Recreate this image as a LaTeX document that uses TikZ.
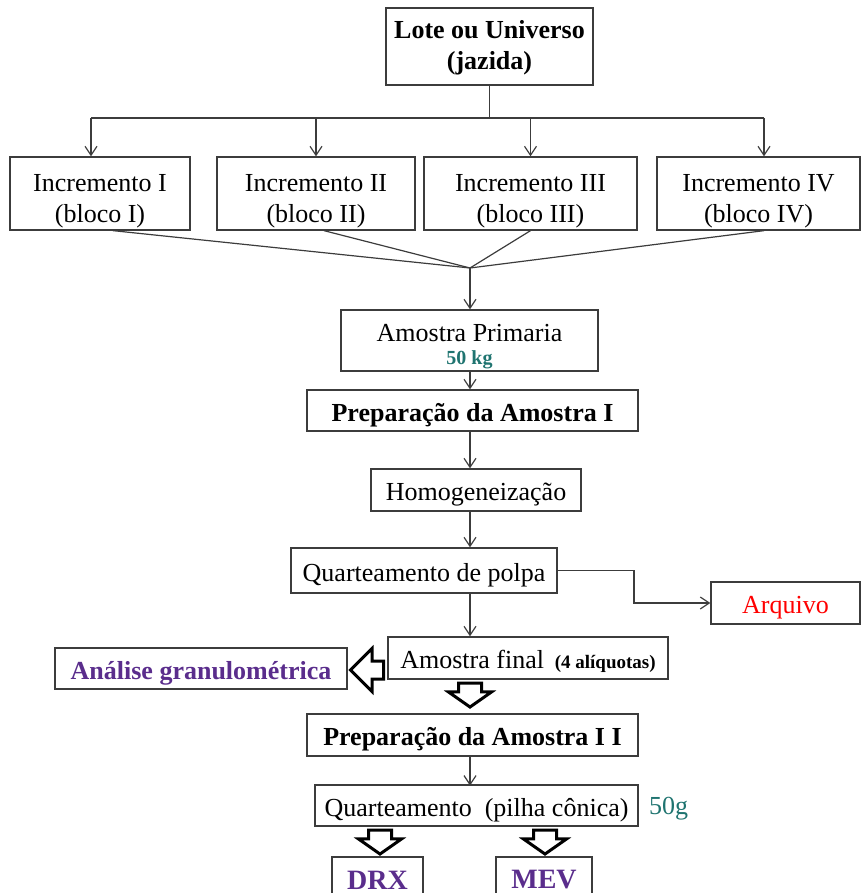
\documentclass[tikz,border=0pt]{standalone}
\usepackage{fontspec}
\setmainfont{Liberation Serif}
\usetikzlibrary{shapes,arrows,arrows.meta,positioning,calc}
\definecolor{analisecor}{HTML}{5A2D8C}
\definecolor{pesocor}{HTML}{1F7470}
\definecolor{linhacor}{HTML}{3C3C3C}

\tikzset{
  caixa/.style={draw=linhacor, line width=.65pt, align=center, inner sep=0pt,
    font=\fontsize{13}{15.5}\selectfont},
  linha/.style={text height=10.5pt, text depth=0pt},
  duas/.style={text height=29pt, text depth=0pt},
  negrito/.style={font=\bfseries\fontsize{13}{15.5}\selectfont},
  seta/.style={-{Straight Barb[length=4.5pt,width=6pt]}, draw=linhacor, line width=.6pt},
  bloco/.style={single arrow, draw=black, fill=white, line width=1.5pt, inner xsep=5pt, inner ysep=.5pt,
    single arrow head extend=5pt, single arrow tip angle=110, minimum height=12pt, minimum width=12pt,
    shape border rotate=270},
}

\begin{document}
\begin{tikzpicture}[x=.5pt,y=-.5pt]
    \clip (0,0) rectangle (861,893);

    % lote e incrementos
    \node[caixa,negrito,text height=23.2pt,text depth=0pt,minimum width=103.5pt,minimum height=38.5pt] (lote) at (489.5,46.5) {Lote ou Universo\\(jazida)};
    \node[caixa,duas,minimum width=90pt,minimum height=36.5pt] (inc1) at (100,193.5) {Incremento I\\(bloco I)};
    \node[caixa,duas,minimum width=99pt,minimum height=36.5pt] (inc2) at (316,193.5) {Incremento II\\(bloco II)};
    \node[caixa,duas,minimum width=106.5pt,minimum height=36.5pt] (inc3) at (530.5,193.5) {Incremento III\\(bloco III)};
    \node[caixa,duas,minimum width=101.5pt,minimum height=36.5pt] (inc4) at (758.5,193.5) {Incremento IV\\(bloco IV)};

    \coordinate (ramo) at (489.5,118);
    \coordinate (junta) at (470,268);
    \draw[linhacor,line width=.6pt] (lote.south) -- (ramo);
    \draw[linhacor,line width=.6pt] ([xshift=-4.5pt]inc1.north |- ramo) -- ([xshift=2.75pt]inc4.north |- ramo);
    \draw[seta] ([xshift=-4.5pt]inc1.north |- ramo) -- ([xshift=-4.5pt]inc1.north);
    \draw[seta] (inc2.north |- ramo) -- (inc2.north);
    \draw[seta] (inc3.north |- ramo) -- (inc3.north);
    \draw[seta] ([xshift=2.75pt]inc4.north |- ramo) -- ([xshift=2.75pt]inc4.north);
    \draw[linhacor,line width=.6pt] ([xshift=6.5pt]inc1.south) -- (junta);
    \draw[linhacor,line width=.6pt] ([xshift=4pt]inc2.south) -- (junta);
    \draw[linhacor,line width=.6pt] (inc3.south) -- (junta);
    \draw[linhacor,line width=.6pt] ([xshift=2.75pt]inc4.south) -- (junta);

    % amostra primaria
    \node[caixa,text height=23.5pt,text depth=0pt,minimum width=128.5pt,minimum height=30.5pt] (prim) at (469.5,340.5) {Amostra Primaria\\[-4pt]{\bfseries\fontsize{10}{12}\selectfont\color{pesocor}50 kg}};
    \draw[seta] (junta) -- (prim.north -| junta);

    \node[caixa,negrito,linha,minimum width=165.5pt,minimum height=20.5pt] (prep1) at (472.5,410.5) {Preparação da Amostra I};
    \draw[seta] (prim.south -| junta) -- (prep1.north -| junta);

    \node[caixa,linha,minimum width=105pt,minimum height=21pt] (homog) at (476,490) {Homogeneização};
    \draw[seta] (prep1.south -| junta) -- (homog.north -| junta);

    \node[caixa,linha,minimum width=133pt,minimum height=22.5pt] (quart) at (424,570.5) {Quarteamento de polpa};
    \draw[seta] (homog.south -| junta) -- (quart.north -| junta);

    \node[caixa,linha,text=red,minimum width=74.5pt,minimum height=21pt] (arq) at (785.5,603) {Arquivo};
    \draw[seta] (quart.east) -| ($(quart.east)!.5!(arq.west)$) |- (arq.west);

    \node[caixa,linha,minimum width=140pt,minimum height=21pt] (final) at (528,658) {Amostra final\, {\bfseries\fontsize{9.5}{11}\selectfont(4 alíquotas)}};
    \draw[seta] (quart.south -| junta) -- (final.north -| junta);

    \node[caixa,negrito,linha,text=analisecor,minimum width=146pt,minimum height=20.5pt] (anal) at (201,668.5) {Análise granulométrica};
    \node[bloco,shape border rotate=180,inner xsep=.5pt,inner ysep=3.75pt,single arrow head extend=6.25pt,single arrow tip angle=90,minimum width=0pt,minimum height=16.5pt] (b1) at (371.5,670) {};

    \node[bloco] (b2) at (470,691) {};

    \node[caixa,negrito,linha,minimum width=165.5pt,minimum height=21pt] (prep2) at (472.5,735) {Preparação da Amostra I I};
    \draw[seta] (prep2.south -| junta) -- ++(0,29);

    \node[caixa,linha,minimum width=161.5pt,minimum height=20.5pt] (pilha) at (476.5,805.5) {Quarteamento~~(pilha cônica)};
    \node[right=5pt of pilha,yshift=-1.5pt,inner sep=0pt,text=pesocor,font=\fontsize{13}{15.5}\selectfont] (peso) {50g};

    % DRX e MEV
    \node[caixa,font=\bfseries\fontsize{14}{16}\selectfont,text=analisecor,minimum width=45.5pt,minimum height=23pt] (drx) at (377.5,880) {DRX};
    \node[caixa,font=\bfseries\fontsize{14}{16}\selectfont,text=analisecor,minimum width=48pt,minimum height=23pt] (mev) at (544,880) {MEV};
    \node[bloco] (b3) at (380,838) {};
    \node[bloco] (b4) at (545,838) {};
\end{tikzpicture}
\end{document}
